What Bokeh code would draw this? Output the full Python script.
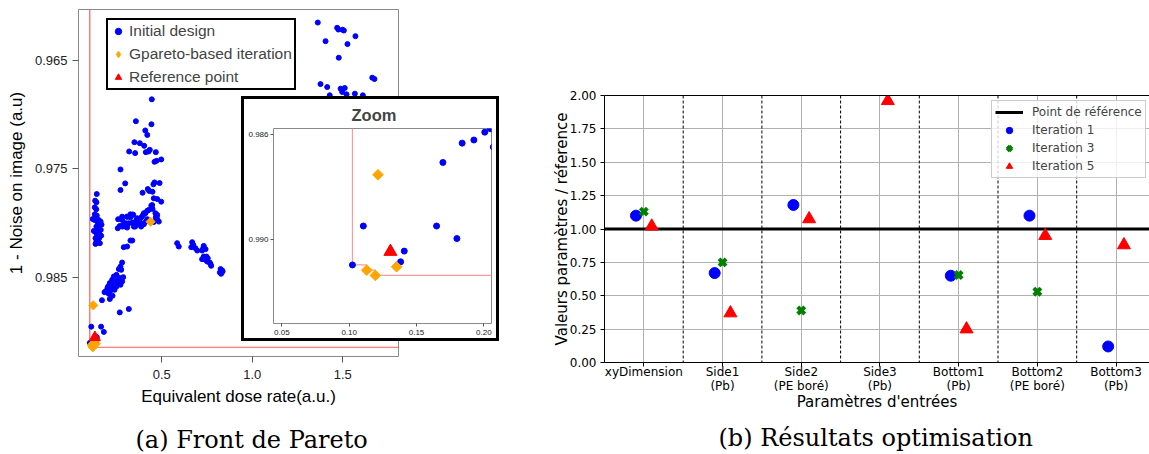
import numpy as np
from bokeh.plotting import figure
from bokeh.layouts import column
from bokeh.models import (Range1d, FixedTicker, Legend, LegendItem, Span, Title,
                          LinearAxis, GridBox, NumeralTickFormatter)
from bokeh.embed import file_html
from bokeh.resources import INLINE

# ---------------- Panel (a): Pareto front ----------------
initial_x = [
    1.362, 1.469, 1.476, 1.499, 1.506, 1.570, 1.405, 1.526, 1.478, 1.663,
    1.675, 1.377, 1.414, 1.488, 1.511, 1.497, 1.521, 1.567, 1.428, 1.611,
    0.445, 0.357, 0.443, 0.409, 0.420, 0.349, 0.379, 0.403, 0.320, 0.353,
    0.412, 0.434, 0.427, 0.467, 0.460, 0.471, 0.497, 0.272, 0.298, 0.460,
    0.488, 0.454, 0.394, 0.423, 0.431, 0.449, 0.456, 0.475, 0.497, 0.272,
    0.442, 0.449, 0.420, 0.401, 0.475, 0.467, 0.390, 0.364, 0.338, 0.327,
    0.309, 0.301, 0.346, 0.383, 0.412, 0.456, 0.484, 0.475, 0.386, 0.353,
    0.309, 0.283, 0.281,
    0.141, 0.132, 0.139, 0.130, 0.138, 0.130, 0.141, 0.119, 0.128, 0.152,
    0.162, 0.147, 0.167, 0.139, 0.152, 0.125, 0.147, 0.163, 0.136, 0.154,
    0.165, 0.143, 0.134, 0.154, 0.139, 0.158, 0.134,
    0.259, 0.281, 0.307, 0.327, 0.342, 0.257, 0.268, 0.287, 0.300, 0.318,
    0.337, 0.346, 0.360, 0.368, 0.383, 0.397, 0.410, 0.401, 0.420, 0.428,
    0.447, 0.465, 0.471, 0.290, 0.309, 0.327, 0.337,
    0.585, 0.594, 0.668, 0.674, 0.663, 0.686, 0.696, 0.732, 0.729, 0.742,
    0.723, 0.732, 0.747, 0.723, 0.742, 0.754, 0.751, 0.765, 0.773, 0.769,
    0.825, 0.834, 0.821, 0.828, 0.836,
    0.281, 0.272, 0.263, 0.276, 0.250, 0.235, 0.287, 0.268, 0.226, 0.254,
    0.281, 0.213, 0.235, 0.263, 0.2007, 0.226, 0.250, 0.272, 0.1839, 0.1926,
    0.2049, 0.217, 0.239, 0.207, 0.228, 0.1696, 0.213, 0.268, 0.318,
    0.1024, 0.1105, 0.1382, 0.1409, 0.1649, 0.1800,
]
initial_y = [
    0.96156, 0.96204, 0.96220, 0.96222, 0.96229, 0.96281, 0.96327, 0.96354, 0.96479, 0.96662,
    0.96675, 0.96721, 0.96748, 0.96763, 0.96757, 0.96794, 0.96815, 0.96809, 0.96824, 0.96824,
    0.96861, 0.97062, 0.97090, 0.97147, 0.97188, 0.97255, 0.97264, 0.97288, 0.97340, 0.97355,
    0.97346, 0.97325, 0.97340, 0.97346, 0.97435, 0.97426, 0.97413, 0.97505, 0.97633, 0.97624,
    0.97630, 0.97642, 0.97719, 0.97685, 0.97703, 0.97710, 0.97770, 0.97777, 0.97801, 0.97694,
    0.97838, 0.97868, 0.97884, 0.97907, 0.97923, 0.97944, 0.97939, 0.97953, 0.97920, 0.97944,
    0.97939, 0.97999, 0.97994, 0.97999, 0.97984, 0.97987, 0.97984, 0.97962, 0.98030, 0.98030,
    0.98039, 0.98030, 0.97969,
    0.97731, 0.97792, 0.97807, 0.97853, 0.97871, 0.97917, 0.97929, 0.97960, 0.97969, 0.97969,
    0.97984, 0.97999, 0.98012, 0.98030, 0.98045, 0.98070, 0.98060, 0.98060, 0.98085, 0.98091,
    0.98113, 0.98122, 0.98136, 0.98136, 0.98168, 0.98182, 0.98189,
    0.97962, 0.97939, 0.97939, 0.97917, 0.97920, 0.98045, 0.98024, 0.98015, 0.98030, 0.97999,
    0.97994, 0.98030, 0.97969, 0.98005, 0.97953, 0.97923, 0.97907, 0.98008, 0.97962, 0.97877,
    0.97832, 0.97907, 0.97939, 0.98219, 0.98213, 0.98158, 0.98158,
    0.98182, 0.98213, 0.98173, 0.98198, 0.98219, 0.98228, 0.98250, 0.98207, 0.98228, 0.98237,
    0.98250, 0.98305, 0.98305, 0.98329, 0.98335, 0.98320, 0.98351, 0.98360, 0.98390, 0.98372,
    0.98420, 0.98433, 0.98451, 0.98463, 0.98442,
    0.98360, 0.98397, 0.98420, 0.98427, 0.98473, 0.98488, 0.98494, 0.98503, 0.98518, 0.98527,
    0.98534, 0.98549, 0.98558, 0.98549, 0.98590, 0.98585, 0.98580, 0.98564, 0.98632, 0.98620,
    0.98577, 0.98616, 0.98610, 0.98647, 0.98665, 0.98706, 0.98695, 0.98818, 0.98787,
    0.99098, 0.98949, 0.99086, 0.99045, 0.98949, 0.98997,
]
gpareto_x = [0.438, 0.1214, 0.113, 0.1194, 0.1352]
gpareto_y = [0.97985, 0.98753, 0.99118, 0.99138, 0.99105]
ref_point_x = [0.1306]
ref_point_y = [0.99047]
front_x = [0.1024, 0.113, 0.1194]
front_y = [0.99098, 0.99118, 0.99138]

main_x_ticks = [0.5, 1.0, 1.5]
main_y_ticks = [0.965, 0.975, 0.985]
zoom_x_ticks = [0.05, 0.10, 0.15, 0.20]
zoom_y_ticks = [0.986, 0.990]

# ---------------- Panel (b): optimisation results ----------------
categories = ["xyDimension", "Side1\n(Pb)", "Side2\n(PE boré)", "Side3\n(Pb)",
              "Bottom1\n(Pb)", "Bottom2\n(PE boré)", "Bottom3\n(Pb)"]
iteration1 = [1.10, 0.67, 1.18, np.nan, 0.65, 1.10, 0.12]
iteration3 = [1.13, 0.75, 0.39, np.nan, 0.655, 0.53, np.nan]
iteration5 = [1.02, 0.37, 1.075, 1.96, 0.25, 0.95, 0.88]
reference_value = 1.0
b_y_ticks = [0.0, 0.25, 0.5, 0.75, 1.0, 1.25, 1.5, 1.75, 2.0]

SANS_R = "Liberation Sans"
SANS_M = "DejaVu Sans"
SERIF = "DejaVu Serif"
BLUE, ORANGE, RED, GREEN = "#0000ff", "#ffa500", "#ff0000", "#008000"
NAN = [np.nan]


def staircase(x_end, y_top):
    xs, ys = [front_x[0]], [y_top]
    for i, (fx, fy) in enumerate(zip(front_x, front_y)):
        xs.append(fx); ys.append(fy)
        nx = front_x[i + 1] if i + 1 < len(front_x) else x_end
        xs.append(nx); ys.append(fy)
    return xs, ys


def r_axis(ax, size, tick_out=6, standoff=6):
    ax.axis_line_color = None
    ax.major_tick_line_color = "#555555"
    ax.major_tick_out = tick_out
    ax.major_tick_in = 0
    ax.minor_tick_line_color = None
    ax.major_label_text_font = SANS_R
    ax.major_label_text_font_size = size
    ax.major_label_text_color = "#222222"
    ax.major_label_standoff = standoff


# ---- main Pareto plot ----
pa = figure(width=530, height=454, x_range=Range1d(0.040, 1.808),
            y_range=Range1d(0.99223, 0.96036), output_backend="svg",
            toolbar_location=None, min_border_left=78, min_border_right=132,
            min_border_top=9, min_border_bottom=97)
pa.grid.visible = False
pa.outline_line_color = "#8a8a8a"
pa.xaxis.ticker = FixedTicker(ticks=main_x_ticks)
pa.yaxis.ticker = FixedTicker(ticks=main_y_ticks)
pa.xaxis.formatter = NumeralTickFormatter(format="0.0")
pa.yaxis.formatter = NumeralTickFormatter(format="0.000")
r_axis(pa.xaxis[0], "13px", 6, 7)
r_axis(pa.yaxis[0], "13px", 6, 5)
pa.xaxis.axis_label = "Equivalent dose rate(a.u.)"
pa.yaxis.axis_label = "1 - Noise on image (a.u)"
for ax in (pa.xaxis[0], pa.yaxis[0]):
    ax.axis_label_text_font = SANS_R
    ax.axis_label_text_font_size = "17px"
    ax.axis_label_text_font_style = "normal"
    ax.axis_label_text_color = "black"
pa.xaxis.axis_label_standoff = 5
pa.yaxis.axis_label_standoff = 6

sx, sy = staircase(pa.x_range.end, pa.y_range.end)
pa.line(sx, sy, line_color="#ff5a5a", line_width=1.2)
pa.scatter(initial_x, initial_y, marker="circle", size=5, color=BLUE)
pa.scatter(gpareto_x, gpareto_y, marker="square", angle=np.pi / 4, size=6.5, color=ORANGE)
pa.scatter(ref_point_x, ref_point_y, marker="triangle", size=11, color=RED)
lb = pa.scatter(NAN, NAN, marker="circle", size=6, color=BLUE)
lo = pa.scatter(NAN, NAN, marker="diamond", size=11, color=ORANGE)
lr = pa.scatter(NAN, NAN, marker="triangle", size=9, color=RED)
leg_a = Legend(items=[LegendItem(label="Initial design", renderers=[lb]),
                      LegendItem(label="Gpareto-based iteration", renderers=[lo]),
                      LegendItem(label="Reference point", renderers=[lr])],
               location=(28, 266), label_text_font=SANS_R, label_text_font_size="15.5px",
               label_height=18, glyph_height=18, glyph_width=16, label_standoff=3,
               spacing=5, padding=2, margin=0, border_line_color="black",
               border_line_width=2.5, border_line_alpha=1.0,
               background_fill_color="white", background_fill_alpha=1)
pa.add_layout(leg_a)
pa.add_layout(Title(text=" ", text_font_size="11px", standoff=0), "below")
cap_a = Title(text="(a) Front de Pareto", align="left", offset=57, text_font=SERIF,
              text_font_size="24px", text_font_style="normal", text_color="black", standoff=2)
pa.add_layout(cap_a, "below")

# ---- zoom inset ----
pz = figure(width=258, height=245, x_range=Range1d(0.04377, 0.2057),
            y_range=Range1d(0.99322, 0.98576), output_backend="svg",
            toolbar_location=None, min_border_left=32, min_border_right=8,
            min_border_top=32, min_border_bottom=18, title="Zoom")
pz.title.text_font = SANS_R
pz.title.text_font_size = "16.5px"
pz.title.text_font_style = "bold"
pz.title.align = "left"
pz.title.offset = 78
pz.grid.visible = False
pz.outline_line_color = "#8a8a8a"
pz.xaxis.ticker = FixedTicker(ticks=zoom_x_ticks)
pz.yaxis.ticker = FixedTicker(ticks=zoom_y_ticks)
pz.xaxis.formatter = NumeralTickFormatter(format="0.00")
pz.yaxis.formatter = NumeralTickFormatter(format="0.000")
r_axis(pz.xaxis[0], "8px", 3, 3)
r_axis(pz.yaxis[0], "8px", 3, 2)
zx, zy = staircase(pz.x_range.end, pz.y_range.end)
pz.line(zx, zy, line_color="#ff9a9a", line_width=1.2)
pz.scatter(initial_x, initial_y, marker="circle", size=6, color=BLUE)
pz.scatter(gpareto_x, gpareto_y, marker="square", angle=np.pi / 4, size=7.5, color=ORANGE)
pz.scatter(ref_point_x, ref_point_y, marker="triangle", size=13, color=RED)

# black frame drawn over the inset (transparent figure)
pbox = figure(width=258, height=245, x_range=Range1d(0, 1), y_range=Range1d(0, 1),
              output_backend="svg", toolbar_location=None, x_axis_location=None,
              y_axis_location=None, min_border=0)
pbox.grid.visible = False
pbox.background_fill_alpha = 0
pbox.border_fill_alpha = 0
pbox.outline_line_color = "black"
pbox.outline_line_width = 5

# ---- panel (b) ----
ncat = len(categories)
pb = figure(width=619, height=454, x_range=Range1d(-0.5, 6.425), y_range=Range1d(0, 2),
            output_backend="svg", toolbar_location=None, min_border_left=74,
            min_border_right=0, min_border_top=95, min_border_bottom=92)
pb.outline_line_color = None
pb.xaxis.ticker = FixedTicker(ticks=list(range(ncat)))
pb.xaxis.major_label_overrides = {i: c for i, c in enumerate(categories)}
pb.yaxis.ticker = FixedTicker(ticks=b_y_ticks)
pb.yaxis.formatter = NumeralTickFormatter(format="0.00")
for ax in (pb.xaxis[0], pb.yaxis[0]):
    ax.axis_line_color = "black"
    ax.major_tick_line_color = "black"
    ax.major_tick_out = 4
    ax.major_tick_in = 0
    ax.minor_tick_line_color = None
    ax.major_label_text_font = SANS_M
    ax.major_label_text_font_size = "12px"
    ax.major_label_text_color = "black"
    ax.axis_label_text_font = SANS_M
    ax.axis_label_text_font_size = "15px"
    ax.axis_label_text_font_style = "normal"
    ax.axis_label_text_color = "black"
pb.xaxis.major_label_standoff = -2
pb.xaxis.major_label_text_line_height = 1.03
pb.yaxis.major_label_standoff = 4
pb.xaxis.axis_label = "Paramètres d'entrées"
pb.yaxis.axis_label = "Valeurs paramètres / réference"
pb.xaxis.axis_label_standoff = -3
pb.yaxis.axis_label_standoff = -4
top_ax = LinearAxis(ticker=FixedTicker(ticks=[]), axis_line_color="black",
                    major_tick_line_color=None, minor_tick_line_color=None,
                    major_label_text_font_size="0px")
pb.add_layout(top_ax, "above")
pb.grid.grid_line_color = "#b0b0b0"
pb.grid.grid_line_width = 1

for i in range(ncat - 1):
    pb.add_layout(Span(location=i + 0.5, dimension="height", line_color="black",
                       line_width=1, line_dash="3 2", level="underlay"))

xi = np.arange(ncat)
r_ref = pb.line([pb.x_range.start, pb.x_range.end], [reference_value, reference_value],
                line_color="black", line_width=3)
r1 = pb.scatter(xi - 0.1, iteration1, marker="circle", size=11, color=BLUE)
r3 = pb.scatter(xi, iteration3, marker="x", size=10, line_width=4, color=GREEN)
r5 = pb.scatter(xi + 0.1, iteration5, marker="triangle", size=13, color=RED)
leg_b = Legend(items=[LegendItem(label="Point de référence", renderers=[r_ref]),
                      LegendItem(label="Iteration 1", renderers=[r1]),
                      LegendItem(label="Iteration 3", renderers=[r3]),
                      LegendItem(label="Iteration 5", renderers=[r5])],
               location=(387, 184), label_text_font=SANS_M, label_text_font_size="12px",
               label_height=16, glyph_height=16, glyph_width=28, label_standoff=9,
               spacing=2, padding=3, margin=0, border_line_color="#cccccc",
               border_line_width=1, border_line_alpha=1.0,
               background_fill_color="white", background_fill_alpha=0.8)
pb.add_layout(leg_b)
pb.add_layout(Title(text=" ", text_font_size="6px", standoff=0), "below")
cap_b = Title(text="(b) Résultats optimisation", align="left", offset=114, text_font=SERIF,
              text_font_size="24px", text_font_style="normal", text_color="black", standoff=0)
pb.add_layout(cap_b, "below")

grid = GridBox(children=[(column(pa), 0, 0, 3, 3), (column(pz), 1, 1, 1, 1),
                         (column(pbox), 1, 1, 1, 1), (column(pb), 0, 3, 3, 1)],
               rows=["96px", "245px", "113px"], cols=["241px", "258px", "31px", "619px"],
               spacing=0)

open("out.html", "w").write(file_html(grid, INLINE))
